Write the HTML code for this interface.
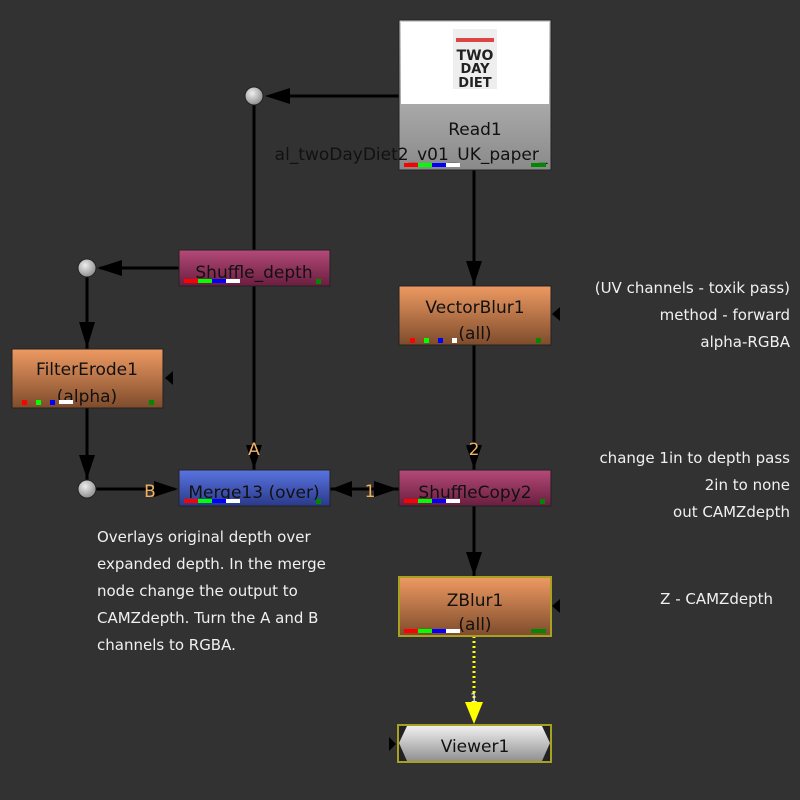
<!DOCTYPE html>
<html><head><style>
body{margin:0;background:#333;}
svg{display:block;font-family:"DejaVu Sans","Liberation Sans",sans-serif;}
</style></head><body>
<svg width="800" height="800" viewBox="0 0 800 800" xmlns="http://www.w3.org/2000/svg">
<defs>
<linearGradient id="org" x1="0" y1="0" x2="0" y2="1"><stop offset="0" stop-color="#ee9a62"/><stop offset="1" stop-color="#7e4c2c"/></linearGradient>
<linearGradient id="pnk" x1="0" y1="0" x2="0" y2="1"><stop offset="0" stop-color="#b44a78"/><stop offset="1" stop-color="#6a1e40"/></linearGradient>
<linearGradient id="blu" x1="0" y1="0" x2="0" y2="1"><stop offset="0" stop-color="#5a74e0"/><stop offset="1" stop-color="#2a3a8a"/></linearGradient>
<linearGradient id="gry" x1="0" y1="0" x2="0" y2="1"><stop offset="0" stop-color="#d0d0d0"/><stop offset="1" stop-color="#8a8a8a"/></linearGradient>
<linearGradient id="vw" x1="0" y1="0" x2="0" y2="1"><stop offset="0" stop-color="#f0f0f0"/><stop offset="1" stop-color="#909090"/></linearGradient>
<radialGradient id="dot" cx="0.4" cy="0.35" r="0.7"><stop offset="0" stop-color="#eee"/><stop offset="1" stop-color="#888"/></radialGradient>
</defs>
<rect width="800" height="800" fill="#323232"/>
<g stroke="#000" stroke-width="3" fill="none">
<line x1="399" y1="96" x2="270" y2="96"/>
<line x1="254" y1="105" x2="254" y2="250"/>
<line x1="179" y1="268" x2="100" y2="268"/>
<line x1="87" y1="277" x2="87" y2="349"/>
<line x1="87" y1="408" x2="87" y2="480"/>
<line x1="96" y1="489" x2="175" y2="489"/>
<line x1="254" y1="286" x2="254" y2="470"/>
<line x1="474" y1="170" x2="474" y2="286"/>
<line x1="474" y1="345" x2="474" y2="470"/>
<line x1="474" y1="506" x2="474" y2="577"/>
<line x1="330" y1="489" x2="399" y2="489"/>
</g>
<line x1="474" y1="636" x2="474" y2="705" stroke="#ff0" stroke-width="3" stroke-dasharray="2,3"/>
<g fill="#000">
<polygon points="265,96 290,88 290,104"/>
<polygon points="97,268 122,260 122,276"/>
<polygon points="87,348 79,322 95,322"/>
<polygon points="87,479 79,455 95,455"/>
<polygon points="178,489 154,481 154,497"/>
<polygon points="254,469 246,445 262,445"/>
<polygon points="474,285 466,261 482,261"/>
<polygon points="474,469 466,445 482,445"/>
<polygon points="474,576 466,552 482,552"/>
<polygon points="398,489 374,481 374,497"/>
<polygon points="331,489 352,481 352,497"/>
<polygon points="552,314 560,307 560,321"/>
<polygon points="165,378 173,371 173,385"/>
<polygon points="552,606 560,599 560,613"/>
<polygon points="396,744 389,737 389,751"/>
</g>
<polygon points="474,724 465,702 483,702" fill="#ff0"/>
<text x="474" y="702" font-size="12" fill="#eee" text-anchor="middle">1</text>
<circle cx="254" cy="96" r="9" fill="url(#dot)" stroke="#222"/>
<circle cx="87" cy="268" r="9" fill="url(#dot)" stroke="#222"/>
<circle cx="87" cy="489" r="9" fill="url(#dot)" stroke="#222"/>
<!-- Read1 -->
<rect x="399" y="20" width="152" height="150" fill="url(#gry)" stroke="#222"/>
<rect x="401" y="22" width="148" height="82" fill="#fff"/>
<rect x="453" y="29" width="44" height="60" fill="#eee"/>
<rect x="456" y="38" width="38" height="4" fill="#d44"/>
<text x="475" y="60" font-size="14" font-weight="bold" fill="#222" text-anchor="middle">TWO</text>
<text x="475" y="73" font-size="13" font-weight="bold" fill="#222" text-anchor="middle">DAY</text>
<text x="475" y="87" font-size="13" font-weight="bold" fill="#222" text-anchor="middle">DIET</text>
<text x="475" y="135" font-size="17" fill="#111" text-anchor="middle">Read1</text>
<text x="411" y="160" font-size="17" fill="#111" text-anchor="middle">al_twoDayDiet2_v01_UK_paper_</text>
<!-- nodes -->
<rect x="179" y="250" width="151" height="36" fill="url(#pnk)" stroke="#222"/>
<text x="254" y="278" font-size="17" fill="#111" text-anchor="middle">Shuffle_depth</text>
<rect x="12" y="349" width="151" height="59" fill="url(#org)" stroke="#222"/>
<text x="87" y="375" font-size="17" fill="#111" text-anchor="middle">FilterErode1</text>
<text x="87" y="402" font-size="17" fill="#111" text-anchor="middle">(alpha)</text>
<rect x="399" y="286" width="152" height="59" fill="url(#org)" stroke="#222"/>
<text x="475" y="313" font-size="17" fill="#111" text-anchor="middle">VectorBlur1</text>
<text x="475" y="339" font-size="17" fill="#111" text-anchor="middle">(all)</text>
<rect x="179" y="470" width="151" height="36" fill="url(#blu)" stroke="#222"/>
<text x="254" y="498" font-size="17" fill="#111" text-anchor="middle">Merge13 (over)</text>
<rect x="399" y="470" width="152" height="36" fill="url(#pnk)" stroke="#222"/>
<text x="475" y="498" font-size="17" fill="#111" text-anchor="middle">ShuffleCopy2</text>
<rect x="399" y="577" width="152" height="59" fill="url(#org)" stroke="#a8a020" stroke-width="2"/>
<text x="475" y="606" font-size="17" fill="#111" text-anchor="middle">ZBlur1</text>
<text x="475" y="630" font-size="17" fill="#111" text-anchor="middle">(all)</text>
<rect x="398" y="725" width="153" height="37" fill="#222" stroke="#a8a020" stroke-width="2"/>
<polygon points="407,726 542,726 550,743 542,761 407,761 399,743" fill="url(#vw)"/>
<text x="475" y="752" font-size="17" fill="#111" text-anchor="middle">Viewer1</text>
<!-- channel bars -->
<g>
<rect x="404" y="163" width="14" height="4" fill="#f00"/><rect x="418" y="163" width="14" height="4" fill="#0f0"/><rect x="432" y="163" width="14" height="4" fill="#00f"/><rect x="446" y="163" width="14" height="4" fill="#fff"/><rect x="531" y="163" width="15" height="4" fill="#080"/>
<rect x="184" y="279" width="14" height="4" fill="#f00"/><rect x="198" y="279" width="14" height="4" fill="#0f0"/><rect x="212" y="279" width="14" height="4" fill="#00f"/><rect x="226" y="279" width="14" height="4" fill="#fff"/><rect x="316" y="279" width="5" height="5" fill="#080"/>
<rect x="184" y="499" width="14" height="4" fill="#f00"/><rect x="198" y="499" width="14" height="4" fill="#0f0"/><rect x="212" y="499" width="14" height="4" fill="#00f"/><rect x="226" y="499" width="14" height="4" fill="#fff"/><rect x="316" y="499" width="5" height="5" fill="#080"/>
<rect x="404" y="499" width="14" height="4" fill="#f00"/><rect x="418" y="499" width="14" height="4" fill="#0f0"/><rect x="432" y="499" width="14" height="4" fill="#00f"/><rect x="446" y="499" width="14" height="4" fill="#fff"/><rect x="540" y="499" width="5" height="5" fill="#080"/>
<rect x="404" y="629" width="14" height="4" fill="#f00"/><rect x="418" y="629" width="14" height="4" fill="#0f0"/><rect x="432" y="629" width="14" height="4" fill="#00f"/><rect x="446" y="629" width="14" height="4" fill="#fff"/><rect x="531" y="629" width="15" height="4" fill="#080"/>
<rect x="22" y="400" width="5" height="5" fill="#f00"/><rect x="36" y="400" width="5" height="5" fill="#0f0"/><rect x="50" y="400" width="5" height="5" fill="#00f"/><rect x="59" y="400" width="14" height="4" fill="#fff"/><rect x="149" y="400" width="5" height="5" fill="#080"/>
<rect x="410" y="338" width="5" height="5" fill="#f00"/><rect x="424" y="338" width="5" height="5" fill="#0f0"/><rect x="438" y="338" width="5" height="5" fill="#00f"/><rect x="452" y="338" width="5" height="5" fill="#fff"/><rect x="536" y="338" width="5" height="5" fill="#080"/>
</g>
<!-- edge labels -->
<g font-size="17" fill="#f0b060" text-anchor="middle">
<text x="254" y="455">A</text>
<text x="474" y="455">2</text>
<text x="150" y="497">B</text>
<text x="370" y="497">1</text>
</g>
<!-- annotations -->
<g font-size="15" fill="#f0f0f0" text-anchor="end">
<text x="790" y="293">(UV channels - toxik pass)</text>
<text x="790" y="320">method - forward</text>
<text x="790" y="347">alpha-RGBA</text>
<text x="790" y="463">change 1in to depth pass</text>
<text x="790" y="490">2in to none</text>
<text x="790" y="517">out CAMZdepth</text>
<text x="773" y="604">Z - CAMZdepth</text>
</g>
<g font-size="15" fill="#f0f0f0">
<text x="97" y="542">Overlays original depth over</text>
<text x="97" y="569">expanded depth. In the merge</text>
<text x="97" y="596">node change the output to</text>
<text x="97" y="623">CAMZdepth. Turn the A and B</text>
<text x="97" y="650">channels to RGBA.</text>
</g>
</svg>
</body></html>
